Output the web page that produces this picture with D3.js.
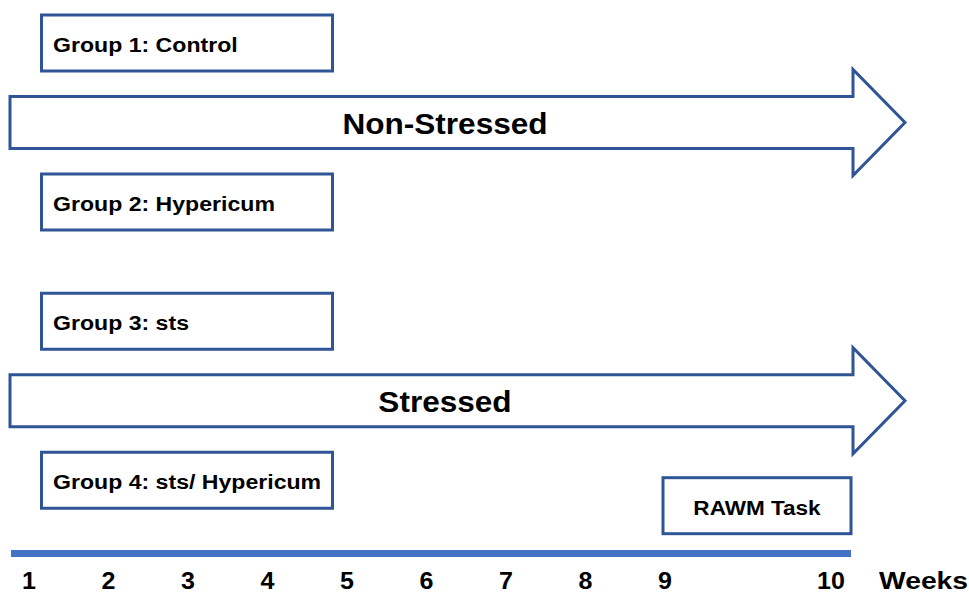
<!DOCTYPE html>
<html lang="en">
<head>
    <meta charset="UTF-8">
    <title>Study Timeline</title>
    <script src="https://cdn.jsdelivr.net/npm/d3@7"></script>
    <style>
        body { margin: 0; background: #fff; }
        text { font-family: "Liberation Sans", Arial, sans-serif; font-weight: bold; fill: #000; }
    </style>
</head>
<body>
    <div id="chart"></div>

    <script>
        // Groups (boxes on the left), row index gives vertical slot
        const groupLabels = ["Group 1: Control", "Group 2: Hypericum", "Group 3: sts", "Group 4: sts/ Hypericum"];
        const groupRows = [0, 2, 3.5, 5.5];

        // Condition arrows
        const arrowLabels = ["Non-Stressed", "Stressed"];
        const arrowRows = [1, 4.5];

        // Task box at the end of the timeline
        const taskLabel = "RAWM Task";
        const taskWeeks = [9, 10];
        const taskRow = 5.82;

        // Timeline ticks
        const weeks = [1, 2, 3, 4, 5, 6, 7, 8, 9, 10];
        const unitLabel = "Weeks";

        const width = 969, height = 593;
        const navy = "#2f5597";
        const stretch = 1.09; // the original lettering is a bit wider than Arial

        const svg = d3.select("#chart")
            .append("svg")
            .attr("width", width)
            .attr("height", height);

        // week 10 sits further right than the even spacing, so piecewise
        const x = d3.scaleLinear()
            .domain([1, 9, 10])
            .range([29, 665, 831]);

        const y = d3.scaleLinear()
            .domain([0, 1])
            .range([43, 122.5]);

        // helper: place a text with a horizontal stretch
        function label(sel, tx, ty, sx) {
            return sel.attr("transform", (d, i) =>
                `translate(${typeof tx === "function" ? tx(d, i) : tx},${typeof ty === "function" ? ty(d, i) : ty}) scale(${sx},1)`);
        }

        // group boxes
        const boxH = 56;
        const groups = svg.selectAll("g.group")
            .data(groupLabels.map((d, i) => ({ label: d, row: groupRows[i] })))
            .enter()
            .append("g")
            .attr("class", "group");

        groups.append("rect")
            .attr("x", 41.5)
            .attr("y", d => y(d.row) - boxH / 2)
            .attr("width", 291)
            .attr("height", boxH)
            .attr("fill", "#fff")
            .attr("stroke", navy)
            .attr("stroke-width", 3);

        label(groups.append("text"), 53, d => y(d.row) + 8.5, 1.1)
            .attr("font-size", 21)
            .text(d => d.label);

        // arrows
        const bodyHalf = 26, headHalf = 53;
        const arrowLeft = 10, headBase = 853, tip = 905;
        const arrowPath = cy => `M${arrowLeft},${cy - bodyHalf}
            L${headBase},${cy - bodyHalf} L${headBase},${cy - headHalf}
            L${tip},${cy} L${headBase},${cy + headHalf}
            L${headBase},${cy + bodyHalf} L${arrowLeft},${cy + bodyHalf} Z`;

        const arrows = svg.selectAll("g.arrow")
            .data(arrowLabels.map((d, i) => ({ label: d, row: arrowRows[i] })))
            .enter()
            .append("g")
            .attr("class", "arrow");

        arrows.append("path")
            .attr("d", d => arrowPath(y(d.row)))
            .attr("fill", "#fff")
            .attr("stroke", navy)
            .attr("stroke-width", 3)
            .attr("stroke-linejoin", "miter");

        label(arrows.append("text"), 445, d => y(d.row) + 11.5, 1.07)
            .attr("text-anchor", "middle")
            .attr("font-size", 29.5)
            .text(d => d.label);

        // RAWM task box
        const tx0 = x(taskWeeks[0]) - 2, tx1 = x(taskWeeks[1]) + 20;
        svg.append("rect")
            .attr("x", tx0)
            .attr("y", y(taskRow) - boxH / 2)
            .attr("width", tx1 - tx0)
            .attr("height", boxH)
            .attr("fill", "#fff")
            .attr("stroke", navy)
            .attr("stroke-width", 3);

        label(svg.append("text"), (tx0 + tx1) / 2, y(taskRow) + 9, 1.1)
            .attr("text-anchor", "middle")
            .attr("font-size", 20.5)
            .text(taskLabel);

        // timeline bar
        svg.append("rect")
            .attr("x", 11)
            .attr("y", 550)
            .attr("width", 851 - 11)
            .attr("height", 7)
            .attr("fill", "#4472c4");

        // week labels
        label(svg.selectAll("text.week")
            .data(weeks)
            .enter()
            .append("text")
            .attr("class", "week"), d => x(d), 588.5, stretch)
            .attr("text-anchor", "middle")
            .attr("font-size", 23)
            .text(d => d);

        label(svg.append("text"), 879, 588.5, 1.23)
            .attr("font-size", 23)
            .text(unitLabel);
    </script>
</body>
</html>
